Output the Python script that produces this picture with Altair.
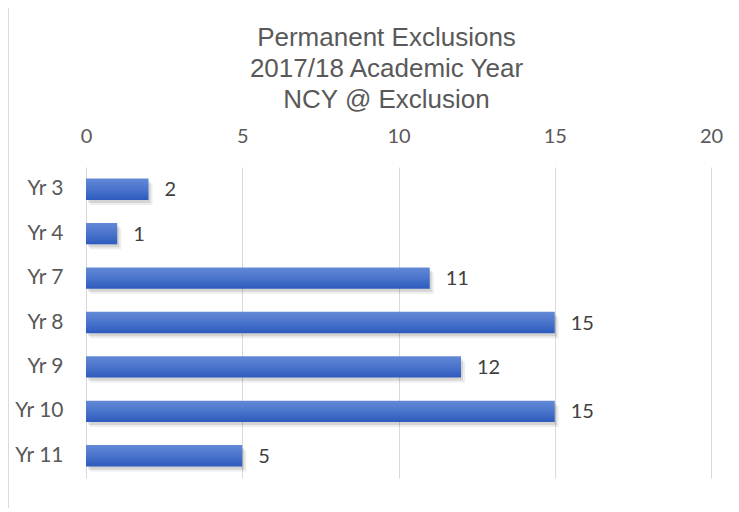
import altair as alt
import pandas as pd

years = ["Yr 3", "Yr 4", "Yr 7", "Yr 8", "Yr 9", "Yr 10", "Yr 11"]
counts = [2, 1, 11, 15, 12, 15, 5]
x_ticks = [0, 5, 10, 15, 20]
title_lines = ["Permanent Exclusions", "2017/18 Academic Year", "NCY @ Exclusion"]

df = pd.DataFrame({"year": years, "count": counts})

LABEL_FONT = "Lato"
GRID = "#d9d9d9"

x_enc = alt.X(
    "count:Q",
    scale=alt.Scale(domain=[0, 20], nice=False),
    axis=alt.Axis(
        orient="top", values=x_ticks, title=None, domain=False, ticks=False,
        grid=True, gridColor=GRID, gridWidth=1, labelFont=LABEL_FONT,
        labelFontSize=20, labelColor="#595959", labelPadding=21,
        labelFlush=False,
    ),
)
y_enc = alt.Y(
    "year:N", sort=years,
    scale=alt.Scale(paddingInner=0.52, paddingOuter=0.26),
    axis=alt.Axis(
        title=None, domain=False, ticks=False, grid=False, labelFont=LABEL_FONT,
        labelFontSize=21, labelColor="#595959", labelPadding=23,
    ),
)

base = alt.Chart(df)

shadow1 = base.mark_bar(color="#000000", opacity=0.10, xOffset=2, yOffset=3).encode(x=x_enc, y=y_enc)
shadow2 = base.mark_bar(color="#000000", opacity=0.07, xOffset=4, yOffset=5).encode(x=x_enc, y=y_enc)

bars = base.mark_bar(
    color=alt.LinearGradient(
        gradient="linear",
        stops=[
            alt.GradientStop(color="#6389d6", offset=0),
            alt.GradientStop(color="#4a74cc", offset=0.5),
            alt.GradientStop(color="#2d5bbd", offset=1),
        ],
        x1=0, x2=0, y1=0, y2=1,
    )
).encode(x=x_enc, y=y_enc)

labels = base.mark_text(
    align="left", baseline="middle", dx=16, dy=1, font=LABEL_FONT,
    fontSize=20, color="#404040",
).encode(x=x_enc, y=y_enc, text="count:Q")

frame_left = alt.Chart(df).mark_rule(color=GRID, strokeWidth=1).encode(
    x=alt.value(-78), y=alt.value(-159), y2=alt.value(342)
)
frame_bottom = alt.Chart(df).mark_rule(color=GRID, strokeWidth=1).encode(
    x=alt.value(-78), x2=alt.value(660), y=alt.value(342)
)

chart = alt.layer(frame_left, frame_bottom, shadow2, shadow1, bars, labels).properties(
    width=625,
    height=311,
    title=alt.TitleParams(
        text=title_lines, font="Liberation Sans", fontSize=26, fontWeight="normal",
        color="#595959", lineHeight=31, anchor="middle", dx=-12, offset=-105,
    ),
    autosize=alt.AutoSizeParams(type="none"),
    padding={"left": 78, "top": 159, "right": 20, "bottom": 30},
).configure_view(stroke=None)

chart.save("out.html", embed_options={"renderer": "svg", "actions": False})
